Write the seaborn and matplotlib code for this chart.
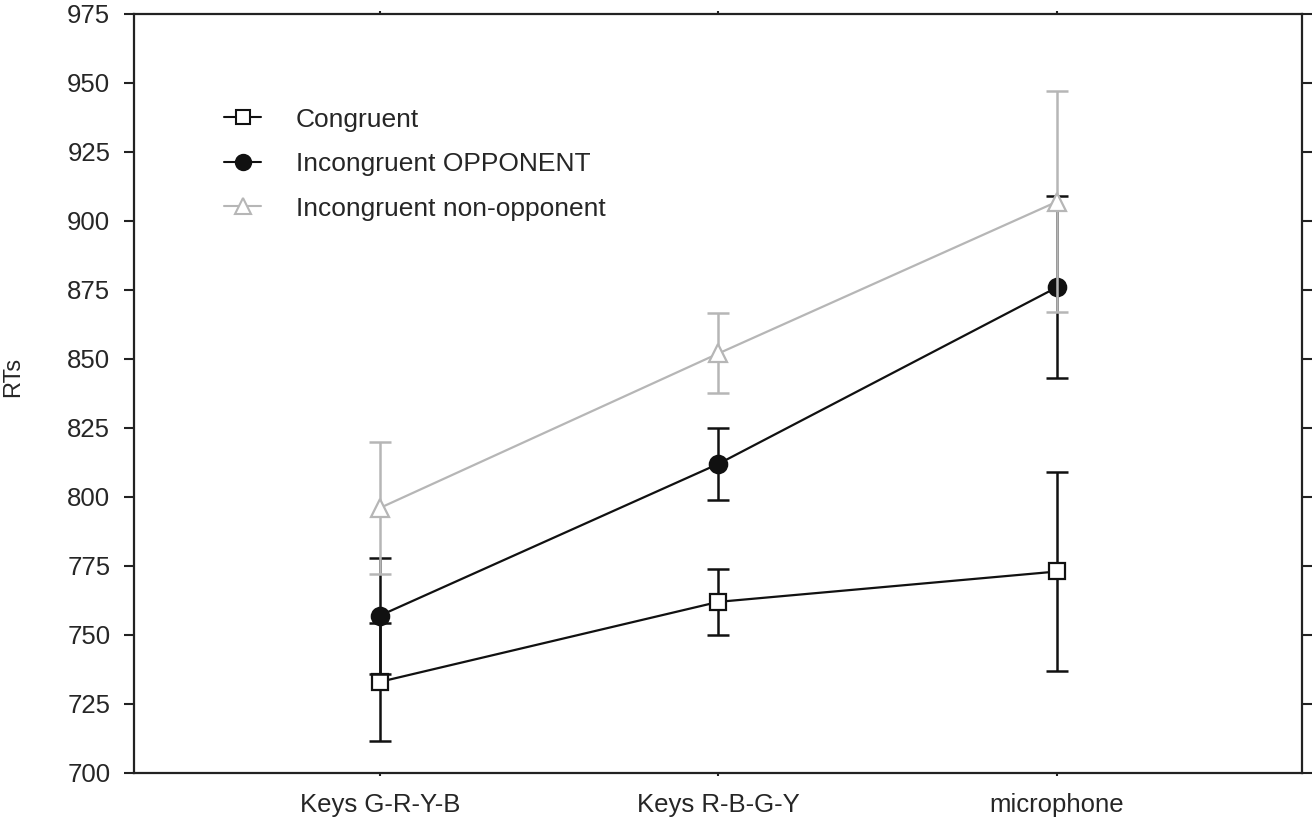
import matplotlib
matplotlib.use("Agg")
import matplotlib.pyplot as plt
import seaborn as sns
import pandas as pd
from matplotlib.lines import Line2D

categories = ["Keys G-R-Y-B", "Keys R-B-G-Y", "microphone"]
series = ["Congruent", "Incongruent OPPONENT", "Incongruent non-opponent"]
congruent = [733, 762, 773]
congruent_err = [21.5, 12, 36]
opponent = [757, 812, 876]
opponent_err = [21, 13, 33]
nonopp = [796, 852, 907]
nonopp_err = [24, 14.5, 40]
yticks = [700, 725, 750, 775, 800, 825, 850, 875, 900, 925, 950, 975]

sns.set_style("ticks")
plt.rcParams['font.family'] = ['Liberation Sans', 'DejaVu Sans']

fig = plt.figure(figsize=(13.13, 8.21), dpi=100)
ax = fig.add_axes([0.102, 0.0585, 0.8896, 0.9245])

means = [congruent, opponent, nonopp]
errs = [congruent_err, opponent_err, nonopp_err]
colors = ["#111111", "#111111", "#b6b6b6"]
markers = ["s", "o", "^"]
mfc = ["white", "#111111", "white"]
msizes = [12, 12.5, 13]

rows = []
for s, m in zip(series, means):
    for i, c in enumerate(categories):
        rows.append({"series": s, "x": i, "cat": c, "RT": m[i]})
df = pd.DataFrame(rows)

for k, s in enumerate(series):
    sub = df[df["series"] == s]
    ax.errorbar(sub["x"], sub["RT"], yerr=errs[k], fmt="none",
                ecolor=colors[k], elinewidth=1.8, capsize=8, capthick=1.8,
                zorder=2 + 2 * k)
    sns.lineplot(data=sub, x="x", y="RT", ax=ax, color=colors[k],
                 marker=markers[k], markersize=msizes[k],
                 markerfacecolor=mfc[k], markeredgecolor=colors[k],
                 markeredgewidth=1.6, linewidth=1.6, zorder=3 + 2 * k,
                 legend=False)

ax.set_xlim(-0.726, 2.723)
ax.set_ylim(700, 975)
ax.set_yticks(yticks)
ax.set_yticklabels([str(v) for v in yticks])
ax.set_xticks(range(len(categories)))
ax.set_xticklabels(categories)
ax.set_xlabel("")
ax.set_ylabel("RTs", fontsize=17)
ax.yaxis.set_label_coords(-0.094, 0.522)

for sp in ax.spines.values():
    sp.set_visible(True)
    sp.set_linewidth(1.6)
    sp.set_color("#222222")

ax.tick_params(axis="y", which="both", direction="out", length=7, width=1.5,
               labelsize=18.5, pad=10, right=True, left=True, color="#222222")
ax.tick_params(axis="x", which="both", direction="out", length=2.5, width=1.5,
               labelsize=18.5, pad=12, top=True, bottom=True, color="#222222")

handles = [Line2D([0], [0], color=colors[k], marker=markers[k],
                  markersize=msizes[k] - 1.5, markerfacecolor=mfc[k],
                  markeredgecolor=colors[k], markeredgewidth=1.5, linewidth=1.5)
           for k in range(3)]
ax.legend(handles, series, loc="upper left", bbox_to_anchor=(0.057, 0.908),
          frameon=False, fontsize=19, handlelength=1.4, handletextpad=1.3,
          labelspacing=0.78)

fig.savefig("out.png", dpi=100)
